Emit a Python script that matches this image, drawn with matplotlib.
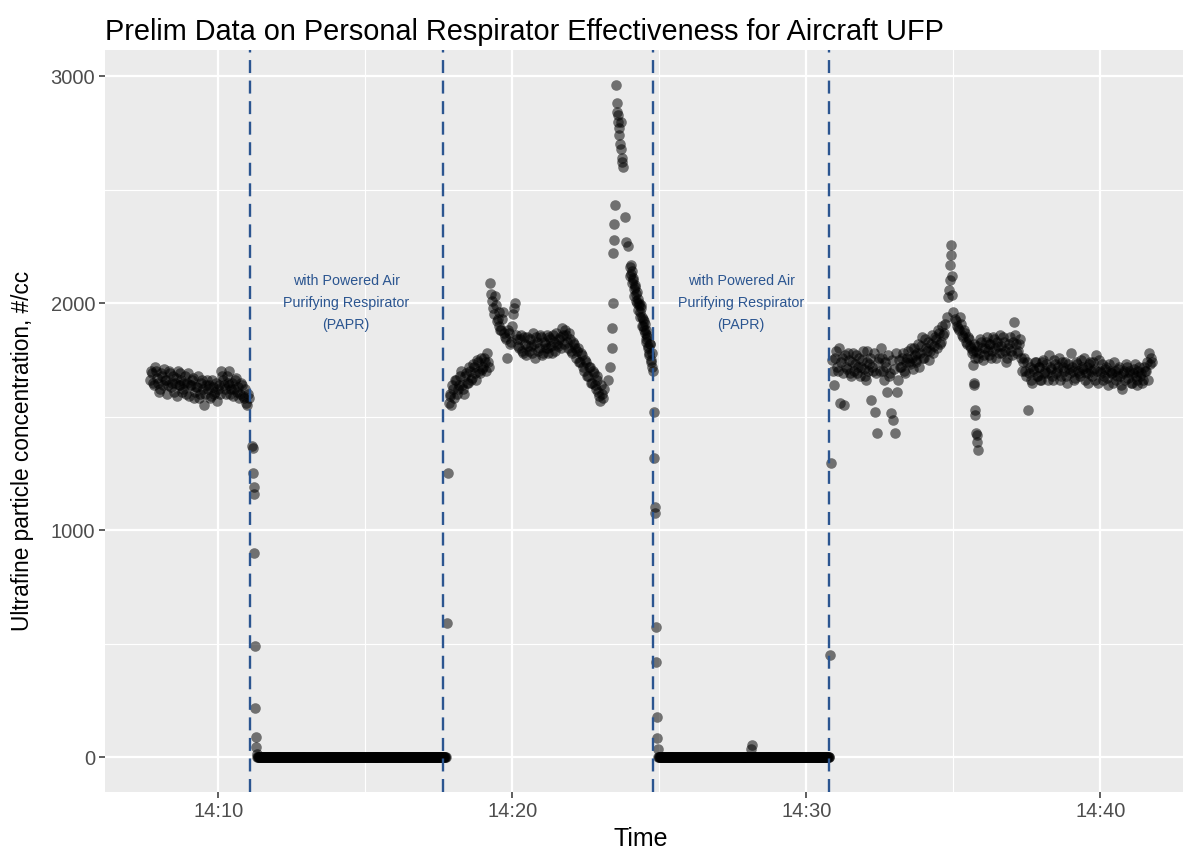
import numpy as np
import pandas as pd
import matplotlib
matplotlib.use("Agg")
import matplotlib.pyplot as plt
import matplotlib.dates as mdates

# times are seconds after 14:00:00, values are particles per cc
# each busy stretch is read as two interleaved 4 s series (offset 2 s)
seg_a_start = 461
seg_a = [1660, 1690, 1640, 1700, 1650, 1620, 1680, 1710, 1660, 1640,
         1690, 1650, 1610, 1670, 1700, 1640, 1660, 1620, 1680, 1650,
         1590, 1640, 1670, 1610, 1630, 1580, 1650, 1620, 1600, 1660,
         1640, 1590, 1630, 1610, 1570, 1640, 1700, 1660, 1620, 1680,
         1640, 1600, 1650, 1620, 1670, 1630, 1600, 1640, 1580, 1560,
         1600]
seg_a2 = [1700, 1650, 1720, 1670, 1610, 1690, 1640, 1660, 1600, 1700,
          1630, 1680, 1650, 1590, 1640, 1690, 1610, 1650, 1600, 1690,
          1640, 1660, 1580, 1630, 1680, 1600, 1660, 1550, 1640, 1620,
          1580, 1660, 1600, 1650, 1620, 1600, 1680, 1640, 1600, 1650,
          1700, 1620, 1590, 1660, 1610, 1580, 1650, 1590, 1620, 1550,
          1580]

drop1_t = [669, 670, 671, 672, 673, 674, 675, 676, 677, 678, 679]
drop1_v = [1370, 1360, 1250, 1190, 1160, 900, 490, 215, 90, 45, 15]

papr1_start, papr1_end = 680, 1064

rise1_t = [1066, 1068]
rise1_v = [590, 1250]

seg_b_start = 1070
seg_b = [1560, 1600, 1640, 1580, 1660, 1620, 1680, 1640, 1600, 1690,
         1650, 1700, 1670, 1720, 1660, 1740, 1690, 1710, 1760, 1700,
         1740, 2090, 2010, 1950, 1990, 1930, 1900, 1880, 1960, 1850,
         1760, 1870, 1830, 1950, 2000, 1840, 1800, 1860, 1780, 1820,
         1850, 1790, 1810, 1870, 1760, 1830, 1800, 1850, 1780, 1820,
         1860, 1800, 1840, 1780, 1830, 1870, 1810, 1850, 1890, 1820,
         1860, 1800, 1840, 1780, 1820, 1760, 1800, 1740, 1770, 1700,
         1740, 1680, 1720, 1650, 1690, 1620, 1660, 1590, 1640, 1580]
seg_b2 = [1590, 1550, 1620, 1660, 1600, 1640, 1700, 1620, 1680, 1650,
          1720, 1660, 1730, 1690, 1750, 1700, 1760, 1720, 1740, 1780,
          1720, 2040, 1980, 2030, 1920, 1960, 1880, 1930, 1870, 1840,
          1880, 1820, 1900, 1980, 1860, 1810, 1840, 1790, 1850, 1770,
          1810, 1840, 1780, 1820, 1850, 1790, 1860, 1770, 1830, 1800,
          1780, 1850, 1810, 1860, 1790, 1820, 1840, 1800, 1860, 1880,
          1830, 1870, 1790, 1830, 1800, 1790, 1740, 1780, 1720, 1750,
          1680, 1720, 1650, 1700, 1640, 1680, 1610, 1570, 1600, 1620]

spike1_t = [1396, 1400, 1403, 1404, 1405, 1406, 1407, 1408, 1409, 1411,
            1413, 1414, 1415, 1416, 1417, 1418, 1420, 1421, 1422, 1424,
            1425, 1427, 1430, 1433, 1436]
spike1_v = [1660, 1720, 1800, 1890, 2000, 2220, 2280, 2350, 2430, 2960,
            2880, 2840, 2800, 2830, 2770, 2740, 2700, 2800, 2680, 2640,
            2620, 2600, 2380, 2270, 2250]

# decline after the spike (two 2 s series, offset 1 s)
seg_c_start = 1440
seg_c = [2160, 2130, 2140, 2100, 2060, 2080, 2040, 2000, 2020, 1990,
         1960, 1980, 1940, 1900, 1920, 1870, 1880, 1830, 1850, 1800,
         1780, 1820, 1750, 1720]
seg_c2 = [2120, 2170, 2090, 2110, 2030, 2070, 2010, 2050, 1970, 2000,
          1940, 1990, 1900, 1930, 1880, 1910, 1840, 1860, 1810, 1770,
          1820, 1740, 1780, 1700]

drop2_t = [1489, 1490, 1491, 1492, 1493, 1494, 1495, 1496, 1497]
drop2_v = [1520, 1317, 1101, 1075, 573, 418, 176, 84, 35]

papr2_start, papr2_end = 1498, 1847
blip_t = [1688, 1690]
blip_v = [35, 55]

rise2_t = [1849, 1851]
rise2_v = [449, 1295]

seg_d_start = 1853
seg_d = [1750, 1640, 1790, 1700, 1560, 1760, 1550, 1720, 1780, 1690,
         1740, 1700, 1770, 1720, 1680, 1750, 1710, 1660, 1790, 1730,
         1573, 1700, 1520, 1427, 1760, 1800, 1700, 1740, 1608, 1680,
         1515, 1485, 1427, 1608, 1750, 1720, 1780, 1690, 1760, 1740,
         1800, 1710, 1770, 1750, 1820, 1780, 1850, 1760, 1800, 1830,
         1790, 1860, 1810, 1840, 1880, 1820, 1900, 1870]
seg_d2 = [1700, 1760, 1720, 1800, 1740, 1690, 1770, 1710, 1750, 1680,
          1780, 1730, 1690, 1760, 1720, 1790, 1680, 1740, 1700, 1760,
          1720, 1780, 1690, 1740, 1700, 1760, 1660, 1720, 1770, 1690,
          1750, 1710, 1780, 1660, 1720, 1760, 1700, 1740, 1790, 1730,
          1760, 1800, 1740, 1780, 1720, 1810, 1760, 1840, 1790, 1750,
          1820, 1780, 1850, 1800, 1870, 1830, 1860, 1910]

spike2_t = [2088, 2090, 2092, 2093, 2094, 2095, 2096, 2097, 2098, 2100]
spike2_v = [1940, 2026, 2057, 2101, 2167, 2211, 2255, 2120, 2035, 1960]

dip_t = [2140, 2142, 2143, 2144, 2145, 2147, 2148, 2149, 2150]
dip_v = [1727, 1648, 1640, 1529, 1507, 1427, 1420, 1388, 1352]

seg_e_start = 2104
seg_e = [1930, 1900, 1880, 1910, 1850, 1870, 1820, 1840, 1800, 1790,
         1760, 1810, 1780, 1830, 1750, 1800, 1850, 1770, 1820, 1790,
         1840, 1760, 1810, 1860, 1780, 1830, 1740, 1800, 1850, 1770,
         1916, 1820, 1790, 1840, 1700, 1760, 1680, 1529, 1720, 1650,
         1700, 1740, 1680, 1720, 1660, 1750, 1700, 1690, 1770, 1710,
         1660, 1730, 1700, 1760, 1680, 1720, 1740, 1650, 1710, 1780,
         1700, 1670, 1730, 1690, 1750, 1710, 1660, 1720, 1690, 1740,
         1680, 1710, 1770, 1650, 1700, 1730, 1680, 1720, 1640, 1700,
         1690, 1740, 1660, 1710, 1680, 1620, 1700, 1730, 1670, 1690,
         1650, 1710, 1680, 1640, 1720, 1690, 1660, 1700, 1740, 1780,
         1760]
seg_e2 = [1920, 1890, 1940, 1860, 1880, 1830, 1850, 1810, 1780, 1820,
          1790, 1760, 1840, 1800, 1770, 1830, 1790, 1820, 1760, 1850,
          1800, 1830, 1780, 1810, 1850, 1790, 1760, 1820, 1790, 1830,
          1860, 1780, 1820, 1760, 1740, 1700, 1740, 1690, 1660, 1710,
          1740, 1680, 1720, 1660, 1740, 1690, 1730, 1660, 1720, 1680,
          1750, 1690, 1720, 1660, 1740, 1700, 1680, 1730, 1690, 1720,
          1660, 1740, 1700, 1680, 1720, 1760, 1690, 1650, 1730, 1700,
          1740, 1660, 1700, 1750, 1690, 1660, 1710, 1670, 1730, 1690,
          1650, 1700, 1680, 1720, 1640, 1690, 1660, 1720, 1700, 1650,
          1690, 1730, 1660, 1700, 1680, 1650, 1720, 1700, 1660, 1730,
          1740]

# respirator on/off times (seconds after 14:00)
vline_secs = [665, 1059, 1488, 1847]
label_secs = [861, 1667]
label_text = "with Powered Air\nPurifying Respirator\n(PAPR)"


def regular(start, step, vals):
    return list(start + step * np.arange(len(vals))), list(vals)


parts = [
    regular(seg_a_start, 4, seg_a),
    regular(seg_a_start + 2, 4, seg_a2),
    (drop1_t, drop1_v),
    regular(papr1_start, 1, np.zeros(papr1_end - papr1_start + 1)),
    (rise1_t, rise1_v),
    regular(seg_b_start, 4, seg_b),
    regular(seg_b_start + 2, 4, seg_b2),
    (spike1_t, spike1_v),
    regular(seg_c_start, 2, seg_c),
    regular(seg_c_start + 1, 2, seg_c2),
    (drop2_t, drop2_v),
    regular(papr2_start, 1, np.zeros(papr2_end - papr2_start + 1)),
    (blip_t, blip_v),
    (rise2_t, rise2_v),
    regular(seg_d_start, 4, seg_d),
    regular(seg_d_start + 2, 4, seg_d2),
    (spike2_t, spike2_v),
    regular(seg_e_start, 4, seg_e),
    regular(seg_e_start + 2, 4, seg_e2),
    (dip_t, dip_v),
]
secs = np.concatenate([np.asarray(p[0], float) for p in parts])
vals = np.concatenate([np.asarray(p[1], float) for p in parts])

base = pd.Timestamp("2019-06-01 14:00:00")
def to_time(s):
    return base + pd.to_timedelta(np.asarray(s, float), unit="s")

plt.rcParams["font.family"] = ["Liberation Sans", "DejaVu Sans"]

fig = plt.figure(figsize=(11.99, 8.52), dpi=100)
ax = fig.add_axes([0.0876, 0.0704, 0.8991, 0.8709])
ax.set_facecolor("#EBEBEB")
for s in ax.spines.values():
    s.set_visible(False)

ax.scatter(to_time(secs), vals, s=58, color="black", alpha=0.52,
           linewidths=0, zorder=3)

line_col = "#2B5590"
for s in vline_secs:
    ax.axvline(to_time([s])[0], color=line_col, lw=1.7, ls=(0, (5.5, 3.2)),
               zorder=4)
for s in label_secs:
    ax.text(to_time([s])[0], 2000, label_text, color=line_col, fontsize=10.3,
            ha="center", va="center", linespacing=1.7, zorder=5)

ax.set_xlim(to_time([369])[0], to_time([2569])[0])
ax.set_ylim(-154, 3115)

ax.xaxis.set_major_locator(mdates.MinuteLocator(byminute=[10, 20, 30, 40]))
ax.xaxis.set_minor_locator(mdates.MinuteLocator(byminute=[5, 15, 25, 35]))
ax.xaxis.set_major_formatter(mdates.DateFormatter("%H:%M"))
ax.set_yticks([0, 1000, 2000, 3000])
ax.set_yticks([500, 1500, 2500], minor=True)

ax.grid(which="major", color="white", lw=1.6, zorder=0)
ax.grid(which="minor", color="white", lw=0.8, zorder=0)
ax.set_axisbelow(True)
ax.tick_params(which="major", length=4, width=1.1, color="#333333",
               labelcolor="#4D4D4D", labelsize=14.5, pad=3)
ax.tick_params(which="minor", length=0)

ax.set_xlabel("Time", fontsize=18)
ax.xaxis.set_label_coords(0.497, -0.047)
ax.set_ylabel("Ultrafine particle concentration, #/cc", fontsize=16.3)
ax.yaxis.set_label_coords(-0.066, 0.46)
ax.set_title("Prelim Data on Personal Respirator Effectiveness for Aircraft UFP",
             fontsize=20.8, loc="left", pad=7)

fig.savefig("out.png", dpi=100)
